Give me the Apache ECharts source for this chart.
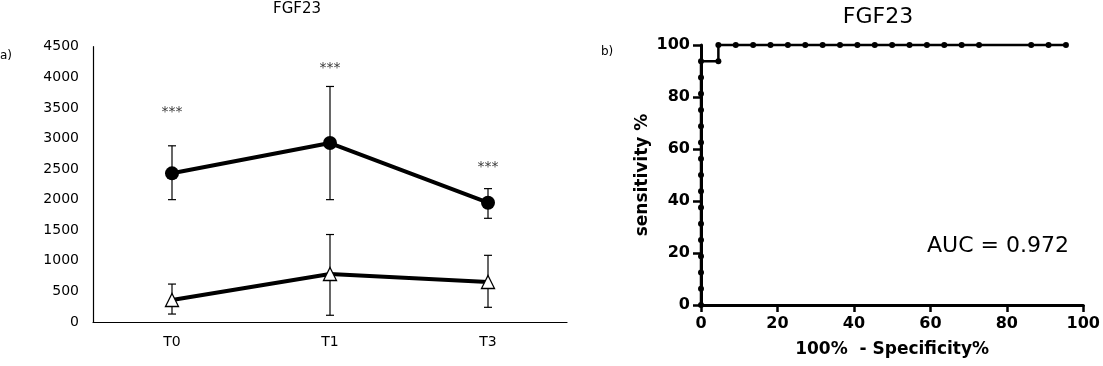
<!DOCTYPE html>
<html>
<head>
<meta charset="utf-8">
<script src="https://cdn.jsdelivr.net/npm/echarts@6/dist/echarts.min.js"></script>
<style>
html,body{margin:0;padding:0;background:#fff;}
#c{width:1103px;height:366px;}
</style>
</head>
<body>
<div id="c"></div>
<script>
// ---- Panel a) data ----
var timepoints = ['T0', 'T1', 'T3'];
var groupAMean = [2430, 2925, 1950];
var groupAUpper = [2880, 3850, 2180];
var groupALower = [2000, 2000, 1695];
var groupBMean = [360, 785, 654];
var groupBUpper = [620, 1430, 1090];
var groupBLower = [130, 110, 240];
var starY = [3480, 4200, 2570];

// ---- Panel b) ROC data ----
var rocFpr = [0, 0, 0, 0, 0, 0, 0, 0, 0, 0, 0, 0, 0, 0, 0, 0,
  4.545, 4.545, 9.091, 13.636, 18.182, 22.727, 27.273, 31.818, 36.364, 40.909,
  45.455, 50.0, 54.545, 59.091, 63.636, 68.182, 72.727, 86.364, 90.909, 95.455];
var rocTpr = [0, 6.25, 12.5, 18.75, 25, 31.25, 37.5, 43.75, 50, 56.25, 62.5, 68.75, 75, 81.25, 87.5, 93.75,
  93.75, 100, 100, 100, 100, 100, 100, 100, 100, 100,
  100, 100, 100, 100, 100, 100, 100, 100, 100, 100];
var aucText = 'AUC = 0.972';

var chart = echarts.init(document.getElementById('c'));

function errData(upper, lower) {
  return timepoints.map(function (t, i) { return [i, lower[i], upper[i]]; });
}
function errRender(params, api) {
  var x = api.value(0);
  var lo = api.coord([x, api.value(1)]);
  var hi = api.coord([x, api.value(2)]);
  var hw = 4;
  var st = { stroke: '#000', lineWidth: 1.2 };
  return {
    type: 'group',
    children: [
      { type: 'line', shape: { x1: hi[0], y1: hi[1], x2: lo[0], y2: lo[1] }, style: st },
      { type: 'line', shape: { x1: hi[0] - hw, y1: hi[1], x2: hi[0] + hw, y2: hi[1] }, style: st },
      { type: 'line', shape: { x1: lo[0] - hw, y1: lo[1], x2: lo[0] + hw, y2: lo[1] }, style: st }
    ]
  };
}

var F = 'DejaVu Sans';
var option = {
  backgroundColor: '#fff',
  animation: false,
  grid: [
    { left: 93, top: 46.7, width: 474, height: 275.3 },
    { left: 701, top: 45, width: 386, height: 260 }
  ],
  xAxis: [
    {
      gridIndex: 0, type: 'category', data: timepoints, boundaryGap: true,
      axisLine: { lineStyle: { color: '#000', width: 1.2 } },
      axisTick: { show: false },
      axisLabel: { color: '#000', fontFamily: F, fontSize: 14, margin: 13 },
      splitLine: { show: false }
    },
    {
      gridIndex: 1, type: 'value', min: 0, max: 100, interval: 20,
      name: '100%  - Specificity%', nameLocation: 'middle', nameGap: 36,
      nameTextStyle: { color: '#000', fontFamily: F, fontSize: 17, fontWeight: 'bold' },
      axisLine: { lineStyle: { color: '#000', width: 3 } },
      axisTick: { show: true, length: 7, lineStyle: { color: '#000', width: 2.5 } },
      axisLabel: { color: '#000', fontFamily: F, fontSize: 16, fontWeight: 'bold', margin: 11 },
      splitLine: { show: false }
    }
  ],
  yAxis: [
    {
      gridIndex: 0, type: 'value', min: 0, max: 4500, interval: 500,
      axisLine: { show: true, lineStyle: { color: '#000', width: 1.2 } },
      axisTick: { show: false },
      axisLabel: { color: '#000', fontFamily: F, fontSize: 14, margin: 14,
        formatter: function (v) { return String(v); } },
      splitLine: { show: false }
    },
    {
      gridIndex: 1, type: 'value', min: 0, max: 100, interval: 20,
      name: 'sensitivity %', nameLocation: 'middle', nameGap: 50, nameRotate: 90,
      nameTextStyle: { color: '#000', fontFamily: F, fontSize: 17, fontWeight: 'bold' },
      axisLine: { show: true, lineStyle: { color: '#000', width: 3 } },
      axisTick: { show: true, length: 8, lineStyle: { color: '#000', width: 2.5 } },
      axisLabel: { color: '#000', fontFamily: F, fontSize: 16, fontWeight: 'bold', margin: 11 },
      splitLine: { show: false }
    }
  ],
  series: [
    { type: 'custom', xAxisIndex: 0, yAxisIndex: 0, renderItem: errRender,
      data: errData(groupAUpper, groupALower), z: 1 },
    { type: 'custom', xAxisIndex: 0, yAxisIndex: 0, renderItem: errRender,
      data: errData(groupBUpper, groupBLower), z: 1 },
    { type: 'line', xAxisIndex: 0, yAxisIndex: 0, data: groupAMean,
      symbol: 'circle', symbolSize: 14, z: 3,
      lineStyle: { color: '#000', width: 4 }, itemStyle: { color: '#000' } },
    { type: 'line', xAxisIndex: 0, yAxisIndex: 0, data: groupBMean,
      symbol: 'triangle', symbolSize: 13, z: 3, showAllSymbol: true,
      lineStyle: { color: '#000', width: 4 },
      itemStyle: { color: '#fff', borderColor: '#000', borderWidth: 1.3 } },
    { type: 'scatter', xAxisIndex: 0, yAxisIndex: 0, data: starY,
      symbolSize: 1, itemStyle: { color: 'rgba(0,0,0,0)' }, z: 4,
      label: { show: true, position: 'inside', formatter: '***', color: '#000',
        fontFamily: F, fontSize: 14, offset: [0, 3] } },
    { type: 'line', xAxisIndex: 1, yAxisIndex: 1,
      data: rocFpr.map(function (x, i) { return [x, rocTpr[i]]; }),
      symbol: 'circle', symbolSize: 6, showAllSymbol: true, clip: false, z: 5,
      lineStyle: { color: '#000', width: 2.5 }, itemStyle: { color: '#000' } }
  ],
  graphic: [
    { type: 'text', left: 0, top: 50, style: { text: 'a)', fontFamily: F, fontSize: 12, fill: '#000' } },
    { type: 'text', x: 297, y: 9, style: { text: 'FGF23', fontFamily: F, fontSize: 15, fill: '#000',
      align: 'center', verticalAlign: 'middle' } },
    { type: 'text', left: 601, top: 46, style: { text: 'b)', fontFamily: F, fontSize: 12, fill: '#000' } },
    { type: 'text', x: 878, y: 17, style: { text: 'FGF23', fontFamily: F, fontSize: 22, fill: '#000',
      align: 'center', verticalAlign: 'middle' } },
    { type: 'text', x: 998, y: 246, style: { text: aucText, fontFamily: F, fontSize: 22, fill: '#000',
      align: 'center', verticalAlign: 'middle' } }
  ]
};
chart.setOption(option);
</script>
</body>
</html>
